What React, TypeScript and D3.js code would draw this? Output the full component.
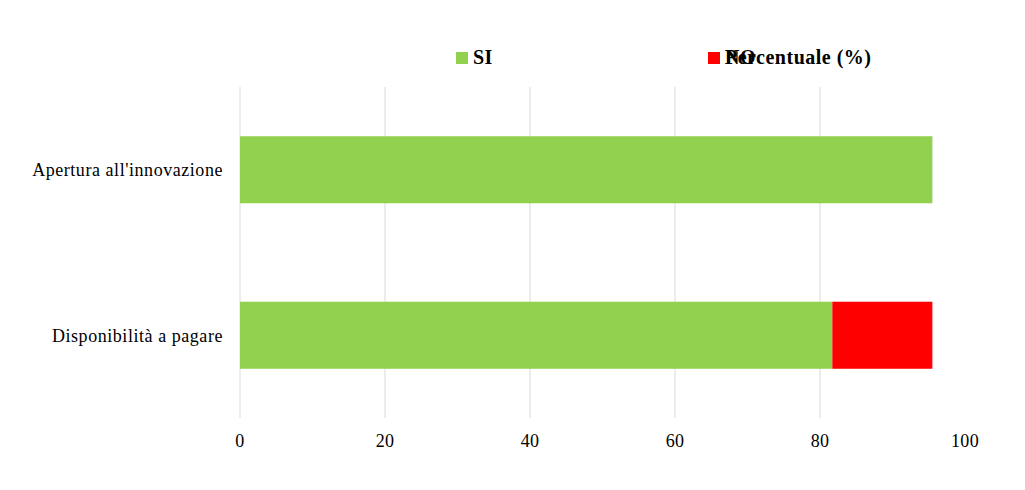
import React, { useEffect, useRef } from "react";
import * as d3 from "d3";

const categories = ["Apertura all'innovazione", "Disponibilità a pagare"];
const siValues = [95.5, 81.7];
const noValues = [0, 13.8];
const xTicks = [0, 20, 40, 60, 80, 100];
const seriesNames = ["SI", "NO"];
const axisTitle = "Percentuale (%)";

const colors = ["#92D050", "#FF0000"];
const font = "'Liberation Serif', 'Times New Roman', serif";

function drawChart(el: SVGSVGElement) {
  const svg = d3.select(el);
  svg.selectAll("*").remove();

  const margin = { top: 87, left: 240, right: 60, bottom: 72 };
  const width = 1025;
  const height = 490;

  const x = d3
    .scaleLinear()
    .domain([0, 100])
    .range([margin.left, width - margin.right]);

  const y = d3
    .scaleBand()
    .domain(categories)
    .range([margin.top, height - margin.bottom])
    .paddingInner(0.595)
    .paddingOuter(0.2975);

  // gridlines (no line at 100)
  svg
    .append("g")
    .selectAll("line")
    .data(xTicks.filter((t) => t < 100))
    .enter()
    .append("line")
    .attr("x1", (d) => x(d))
    .attr("x2", (d) => x(d))
    .attr("y1", margin.top)
    .attr("y2", height - margin.bottom)
    .attr("stroke", "#D9D9D9")
    .attr("stroke-width", 1);

  // stacked bars
  const rows = categories.map((c, i) => ({ cat: c, si: siValues[i], no: noValues[i] }));
  const stack = d3.stack<any>().keys(["si", "no"])(rows);

  svg
    .append("g")
    .selectAll("g")
    .data(stack)
    .enter()
    .append("g")
    .attr("fill", (_d, i) => colors[i])
    .selectAll("rect")
    .data((d) => d)
    .enter()
    .append("rect")
    .attr("x", (d) => x(d[0]))
    .attr("width", (d) => x(d[1]) - x(d[0]))
    .attr("y", (d: any) => y(d.data.cat) as number)
    .attr("height", y.bandwidth());

  // x tick labels
  svg
    .append("g")
    .selectAll("text")
    .data(xTicks)
    .enter()
    .append("text")
    .attr("x", (d) => x(d))
    .attr("y", 447)
    .attr("text-anchor", "middle")
    .attr("font-family", font)
    .attr("font-size", 18)
    .attr("letter-spacing", 0.3)
    .attr("fill", "#000")
    .text((d) => d);

  // category labels
  svg
    .append("g")
    .selectAll("text")
    .data(categories)
    .enter()
    .append("text")
    .attr("x", 223)
    .attr("y", (d) => (y(d) as number) + y.bandwidth() / 2)
    .attr("dy", "0.35em")
    .attr("text-anchor", "end")
    .attr("font-family", font)
    .attr("font-size", 18)
    .attr("letter-spacing", 0.55)
    .attr("fill", "#000")
    .text((d) => d);

  // legend
  const legendX = [456, 708];
  const lg = svg
    .append("g")
    .selectAll("g")
    .data(seriesNames)
    .enter()
    .append("g")
    .attr("transform", (_d, i) => `translate(${legendX[i]}, 0)`);
  lg.append("rect")
    .attr("x", 0)
    .attr("y", 52)
    .attr("width", 12)
    .attr("height", 12)
    .attr("fill", (_d, i) => colors[i]);
  lg.append("text")
    .attr("x", 17)
    .attr("y", 64)
    .attr("font-family", font)
    .attr("font-size", 20)
    .attr("letter-spacing", 0.5)
    .attr("font-weight", "bold")
    .attr("fill", "#000")
    .text((d) => d);

  // axis title overlapping legend
  svg
    .append("text")
    .attr("x", 725)
    .attr("y", 64)
    .attr("font-family", font)
    .attr("font-size", 20)
    .attr("letter-spacing", 0.5)
    .attr("font-weight", "bold")
    .attr("fill", "#000")
    .text(axisTitle);
}

export default function App() {
  const ref = useRef<SVGSVGElement>(null);
  useEffect(() => {
    if (ref.current) drawChart(ref.current);
  }, []);
  return (
    <svg
      ref={ref}
      width={1025}
      height={490}
      style={{ position: "absolute", left: 0, top: 0, background: "#fff" }}
    />
  );
}
